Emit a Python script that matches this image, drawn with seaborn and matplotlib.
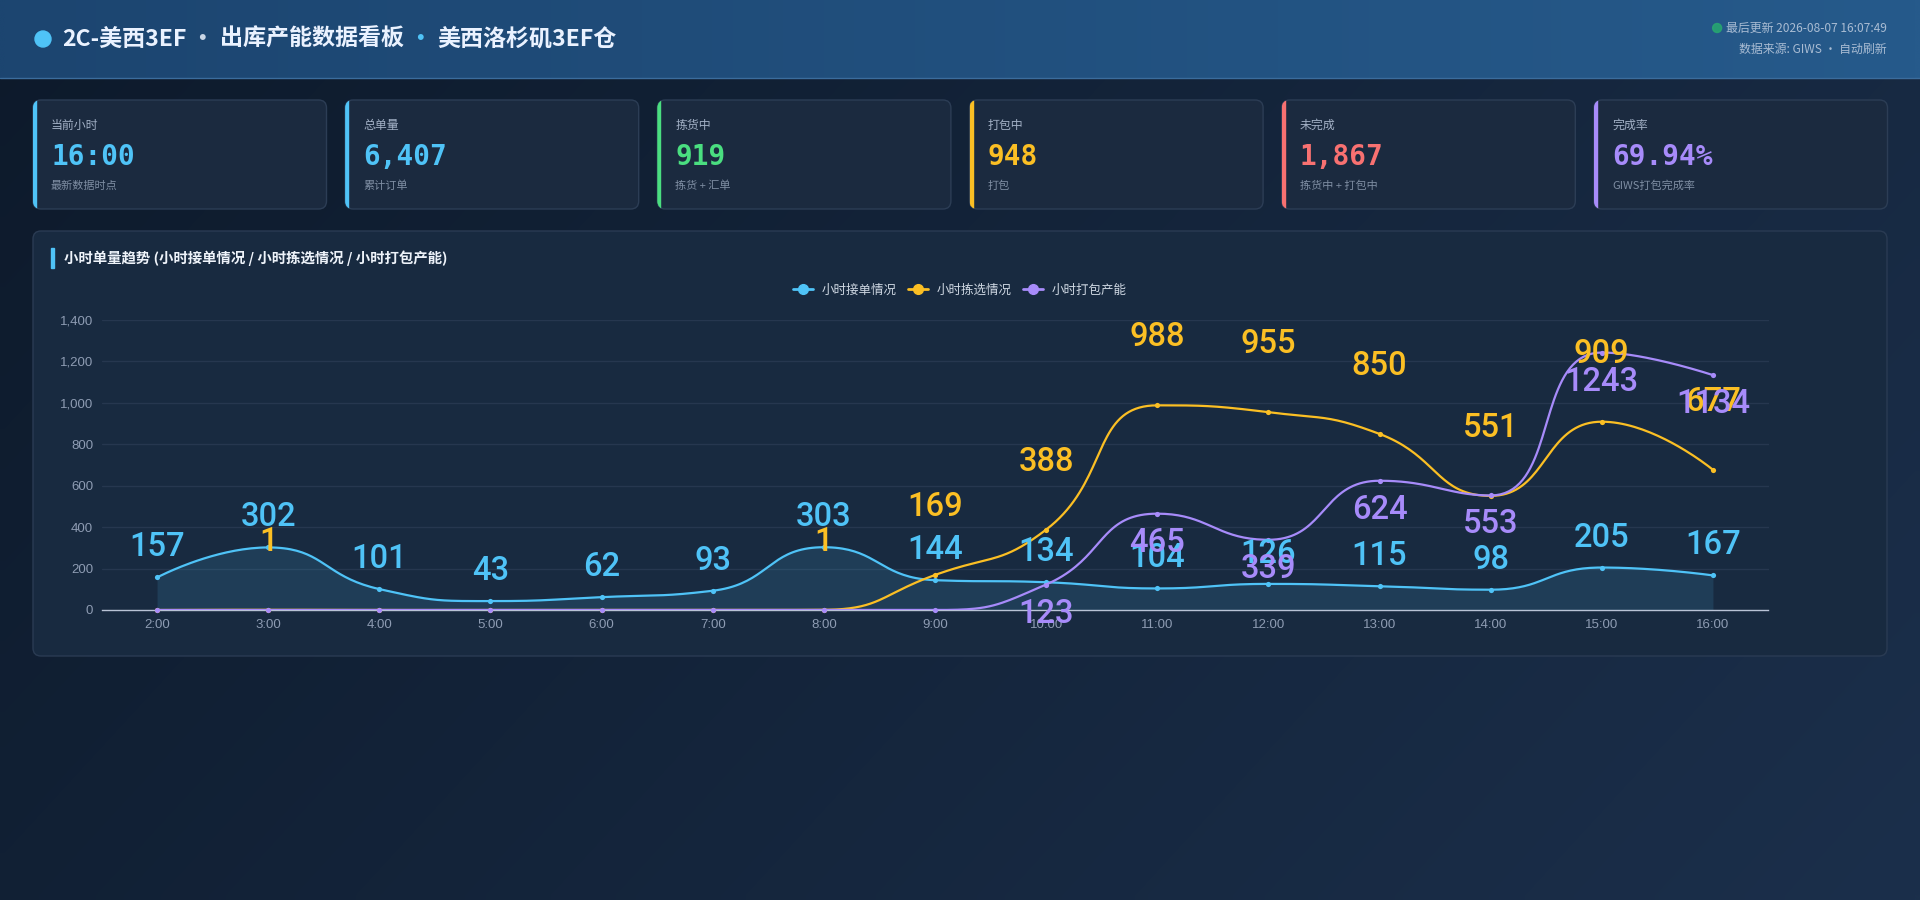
import numpy as np
import pandas as pd
import seaborn as sns
import matplotlib.pyplot as plt
from matplotlib.patches import FancyBboxPatch, Rectangle, Circle
from matplotlib.lines import Line2D
from matplotlib.ticker import FuncFormatter

# ---- data ----
hours = ["2:00", "3:00", "4:00", "5:00", "6:00", "7:00", "8:00", "9:00",
         "10:00", "11:00", "12:00", "13:00", "14:00", "15:00", "16:00"]
orders = [157, 302, 101, 43, 62, 93, 303, 144, 134, 104, 126, 115, 98, 205, 167]
picked = [0, 1, 0, 0, 0, 0, 1, 169, 388, 988, 955, 850, 551, 909, 677]
packed = [0, 0, 0, 0, 0, 0, 0, 0, 123, 465, 339, 624, 553, 1243, 1134]
series_names = ["小时接单情况", "小时拣选情况", "小时打包产能"]

kpi_titles = ["当前小时", "总单量", "拣货中", "打包中", "未完成", "完成率"]
kpi_values = ["16:00", "6,407", "919", "948", "1,867", "69.94%"]
kpi_notes = ["最新数据时点", "累计订单", "拣货 + 汇单", "打包", "拣货中 + 打包中", "GIWS打包完成率"]

BLUE, YELLOW, PURPLE = "#4fc3f7", "#fbbf24", "#a78bfa"
kpi_colors = [BLUE, BLUE, "#4ade80", YELLOW, "#f87171", PURPLE]

sns.set_theme(style="white")
plt.rcParams['font.family'] = ['Liberation Sans', 'Noto Sans CJK SC', 'DejaVu Sans']
CJK = ['Noto Sans CJK SC', 'DejaVu Sans']

W, H = 1920, 900
fig = plt.figure(figsize=(19.2, 9), dpi=100)

# background axes in pixel coords (y down)
bg = fig.add_axes([0, 0, 1, 1], zorder=0)
bg.set_xlim(0, W)
bg.set_ylim(H, 0)
bg.axis("off")


def gradient(c0, c1, extent, diag=True):
    a = np.array(plt.matplotlib.colors.to_rgb(c0))
    b = np.array(plt.matplotlib.colors.to_rgb(c1))
    xx, yy = np.meshgrid(np.linspace(0, 1, 200), np.linspace(0, 1, 100))
    t = (xx * 0.7 + yy * 0.3) if diag else xx
    img = a[None, None, :] * (1 - t[..., None]) + b[None, None, :] * t[..., None]
    bg.imshow(img, extent=extent, aspect="auto", interpolation="bilinear", zorder=0)


gradient("#0d1a2b", "#1b2f4b", (0, W, H, 0))
gradient("#1c4570", "#265a8b", (0, W, 78, 0), diag=False)
bg.plot([0, W], [78, 78], color="#3b6c9c", lw=1, zorder=1)
bg.set_xlim(0, W)
bg.set_ylim(H, 0)

# header title, built piece by piece
renderer = fig.canvas.get_renderer()
bg.add_patch(Circle((43, 39), 8, color=BLUE, zorder=2))
x = 62
for part, col in [("2C-美西3EF", "#eaf2ff"), (" · ", "#c9d6e6"),
                  ("出库产能数据看板", "#eaf2ff"), (" · ", BLUE),
                  ("美西洛杉矶3EF仓", "#eaf2ff")]:
    t = bg.text(x, 39, part, fontsize=16.6, fontweight="bold", color=col,
                va="center", ha="left", family=CJK, zorder=3)
    x = t.get_window_extent(renderer).x1

t1 = bg.text(1887, 28, "最后更新 2026-08-07 16:07:49", fontsize=8.6, color="#a9bcd3",
             ha="right", va="center", family=CJK, zorder=3)
bg.text(1887, 49, "数据来源: GIWS · 自动刷新", fontsize=8.6, color="#a9bcd3",
        ha="right", va="center", family=CJK, zorder=3)
bg.add_patch(Circle((t1.get_window_extent(renderer).x0 - 9, 28), 4.5,
                    color="#27a870", alpha=0.85, zorder=3))

# KPI cards
for i in range(6):
    x0, y0, w, h = 33 + i * 312.2, 100, 293.5, 109
    card = FancyBboxPatch((x0, y0), w, h, boxstyle="round,pad=0,rounding_size=8",
                          facecolor="#1b2a3f", edgecolor="#2c3d55", lw=1, zorder=2)
    bg.add_patch(card)
    acc = Rectangle((x0, y0), 3, h, color=kpi_colors[i], zorder=3)
    acc.set_clip_path(card)
    bg.add_patch(acc)
    bg.text(x0 + 18, 125, kpi_titles[i], fontsize=8.6, color="#a3b1c6",
            va="center", family=CJK, zorder=3)
    bg.text(x0 + 18, 157, kpi_values[i], fontsize=20, fontweight="bold",
            color=kpi_colors[i], va="center", family="DejaVu Sans Mono", zorder=3)
    bg.text(x0 + 18, 186, kpi_notes[i], fontsize=8, color="#7f8ea3",
            va="center", family=CJK, zorder=3)

# chart panel
bg.add_patch(FancyBboxPatch((33, 231), 1854, 425, boxstyle="round,pad=0,rounding_size=8",
                            facecolor="#182a40", edgecolor="#2a3b53", lw=1, zorder=2))
bg.add_patch(Rectangle((51, 248), 3, 20, color=BLUE, zorder=3))
bg.text(64, 258, "小时单量趋势 (小时接单情况 / 小时拣选情况 / 小时打包产能)", fontsize=10.4,
        fontweight="bold", color="#eef3fa", va="center", family=CJK, zorder=3)

# ---- line chart ----
ax = fig.add_axes([101.5 / W, 1 - 610 / H, 1667 / W, 290 / H], zorder=3)
ax.set_facecolor("none")
ax.set_xlim(-0.5, len(hours) - 0.5)
ax.set_ylim(0, 1400)

PX_X = 1667 / len(hours)
PX_Y = 290 / 1400


def smooth_curve(vals, smooth=0.5, n=40):
    # echarts-style smoothed bezier, computed in screen pixel space
    xp = np.arange(len(vals)) * PX_X
    yp = np.asarray(vals, float) * PX_Y
    cx, cy = [xp[0]], [yp[0]]
    c0 = (xp[0], yp[0])
    N = len(xp)
    for i in range(1, N):
        x, y, px, py = xp[i], yp[i], xp[i - 1], yp[i - 1]
        nc = None
        if i == N - 1:
            c1 = (x, y)
        else:
            nx, ny = xp[i + 1], yp[i + 1]
            vx, vy = nx - px, ny - py
            l0, l1 = np.hypot(x - px, y - py), np.hypot(nx - x, ny - y)
            r = l1 / (l0 + l1)
            ncx, ncy = x + vx * smooth * r, y + vy * smooth * r
            ncx = max(min(ncx, max(nx, x)), min(nx, x))
            ncy = max(min(ncy, max(ny, y)), min(ny, y))
            vx, vy = ncx - x, ncy - y
            c1x, c1y = x - vx * l0 / l1, y - vy * l0 / l1
            c1x = max(min(c1x, max(px, x)), min(px, x))
            c1y = max(min(c1y, max(py, y)), min(py, y))
            vx, vy = x - c1x, y - c1y
            nc = (x + vx * l1 / l0, y + vy * l1 / l0)
            c1 = (c1x, c1y)
        t = np.linspace(0, 1, n)[1:]
        bx = (1 - t) ** 3 * px + 3 * (1 - t) ** 2 * t * c0[0] + 3 * (1 - t) * t ** 2 * c1[0] + t ** 3 * x
        by = (1 - t) ** 3 * py + 3 * (1 - t) ** 2 * t * c0[1] + 3 * (1 - t) * t ** 2 * c1[1] + t ** 3 * y
        cx.extend(bx)
        cy.extend(by)
        c0 = nc
    return np.array(cx) / PX_X, np.array(cy) / PX_Y


ax.yaxis.grid(True, color="#26374f", lw=1)
ax.set_axisbelow(True)

series = [(orders, BLUE), (picked, YELLOW), (packed, PURPLE)]
for k, (vals, col) in enumerate(series):
    sx, sy = smooth_curve(vals)
    curve = pd.DataFrame({"x": sx, "y": sy})
    if k == 0:
        ax.fill_between(sx, sy, 0, color=col, alpha=0.13, lw=0, zorder=2)
    sns.lineplot(data=curve, x="x", y="y", sort=False, estimator=None, color=col,
                 lw=1.6, ax=ax, zorder=3 + k)
    pts = pd.DataFrame({"x": np.arange(len(hours)), "y": vals})
    sns.scatterplot(data=pts, x="x", y="y", color=col, s=14, linewidth=0, ax=ax,
                    zorder=3 + k, clip_on=False)

offsets = [30, 68, -29]
for (vals, col), off in zip(series, offsets):
    for i, v in enumerate(vals):
        if v == 0:
            continue
        ax.annotate(str(v), (i, v), xytext=(0, off), textcoords="offset pixels",
                    ha="center", va="center", fontsize=23.5, color=col,
                    family=["Roboto", "Liberation Sans"], fontweight="medium",
                    zorder=10, annotation_clip=False)

for s in ["left", "top", "right"]:
    ax.spines[s].set_visible(False)
ax.spines["bottom"].set_color("#b9c3d6")
ax.spines["bottom"].set_linewidth(1)
ax.set_xticks(np.arange(len(hours)))
ax.set_xticklabels(hours)
ax.set_xticks(np.arange(-0.5, len(hours), 1), minor=True)
ax.tick_params(axis="x", which="major", length=0, pad=6.5, labelsize=9.5, labelcolor="#8e9cb3")
ax.tick_params(axis="x", which="minor", length=3.6, width=1, color="#b9c3d6", direction="out")
ax.set_yticks(np.arange(0, 1401, 200))
ax.yaxis.set_major_formatter(FuncFormatter(lambda v, p: f"{int(v):,}"))
ax.tick_params(axis="y", length=0, pad=6, labelsize=9.5, labelcolor="#8e9cb3")
ax.set_xlabel("")
ax.set_ylabel("")

handles = [Line2D([0], [0], color=c, lw=2, marker="o", markersize=7) for _, c in series]
fig.legend(handles, series_names, loc="center", bbox_to_anchor=(0.5, 1 - 290 / H), ncol=3,
           frameon=False, labelcolor="#cfd8e3", handlelength=1.55,
           handletextpad=0.75, columnspacing=0.9, prop={"family": CJK, "size": 9})

fig.savefig("out.png", dpi=100)
